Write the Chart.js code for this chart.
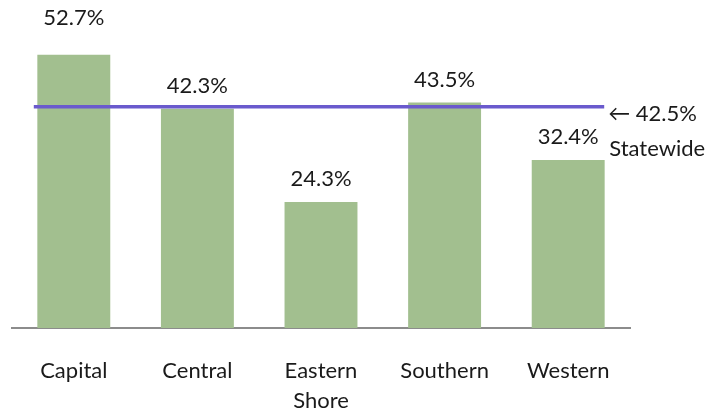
<!DOCTYPE html>
<html>
<head>
<meta charset="utf-8">
<script src="https://cdn.jsdelivr.net/npm/chart.js@4.4.1/dist/chart.umd.min.js"></script>
<style>
  body { margin: 0; background: #fff; }
  #wrap { width: 721px; height: 413px; }
</style>
</head>
<body>
<div id="wrap"><canvas id="regionChart"></canvas></div>
<script>
const regions = [['Capital'], ['Central'], ['Eastern', 'Shore'], ['Southern'], ['Western']];
const shares = [52.7, 42.3, 24.3, 43.5, 32.4];
const statewide = 42.5;

const FONT = "Lato, 'Noto Sans', sans-serif";
const TEXT = '#1a1a1a';

// value labels above each bar, plus the statewide reference line
const overlay = {
    id: 'overlay',
    afterDatasetsDraw(chart, args, opts) {
        const ctx = chart.ctx;
        const xs = chart.scales.x, ys = chart.scales.y;
        ctx.save();
        ctx.font = '22px ' + FONT;
        ctx.fillStyle = TEXT;
        ctx.textAlign = 'center';
        ctx.textBaseline = 'middle';
        chart.getDatasetMeta(0).data.forEach((bar, i) => {
            const off = opts.offsets[i] || 23;
            ctx.fillText(shares[i].toFixed(1) + '%', bar.x, bar.y - off);
        });

        const y = ys.getPixelForValue(statewide) - 1;
        const x0 = xs.getPixelForValue(0) - 40;
        const x1 = xs.getPixelForValue(shares.length - 1) + 36;
        ctx.strokeStyle = '#6a5acd';
        ctx.lineWidth = 3.5;
        ctx.beginPath();
        ctx.moveTo(x0, y);
        ctx.lineTo(x1, y);
        ctx.stroke();

        ctx.textAlign = 'left';
        ctx.fillText('\u2190 ' + statewide.toFixed(1) + '%', x1 + 4, y + 7);
        ctx.fillText('Statewide', x1 + 5, y + 42);
        ctx.restore();
    }
};

new Chart(document.getElementById('regionChart'), {
    type: 'bar',
    data: {
        labels: regions,
        datasets: [{
            data: shares,
            backgroundColor: '#a2bf8f',
            borderWidth: 0,
            categoryPercentage: 1,
            barPercentage: 0.59
        }]
    },
    options: {
        responsive: true,
        maintainAspectRatio: false,
        animation: false,
        layout: { padding: { top: 17, left: 12, right: 91, bottom: 0 } },
        plugins: {
            legend: { display: false },
            tooltip: { enabled: false },
            overlay: { offsets: [37, 23, 23, 23, 23] }
        },
        scales: {
            x: {
                grid: { display: false },
                border: { display: true, color: '#8c8c8c', width: 2 },
                ticks: {
                    color: TEXT,
                    font: { family: FONT, size: 22, lineHeight: 1.36 },
                    padding: 20,
                    maxRotation: 0
                },
                afterFit: s => { s.height = 85; }
            },
            y: {
                display: false,
                min: 0,
                max: 60
            }
        }
    },
    plugins: [overlay]
});
</script>
</body>
</html>
